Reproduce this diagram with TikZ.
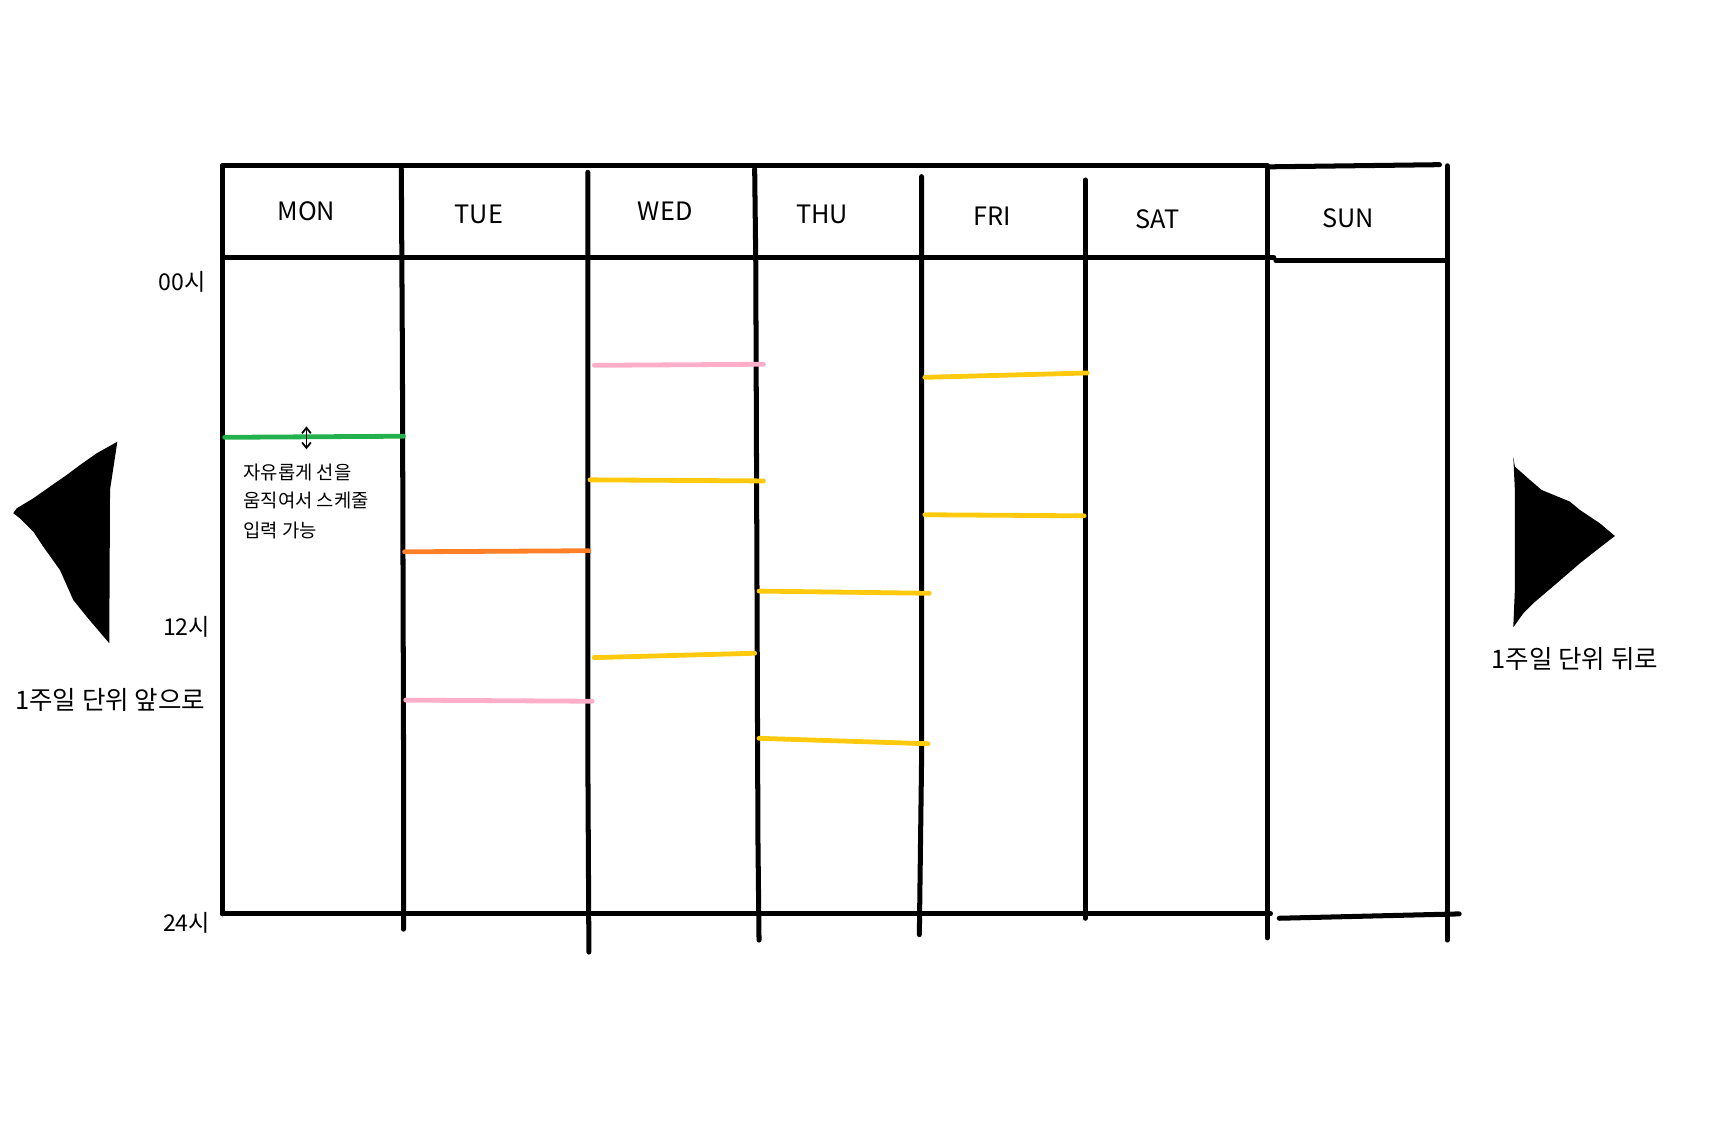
\documentclass[tikz,border=0pt]{standalone}
\usepackage{fontspec}
\setmainfont{Noto Sans CJK KR}
\usetikzlibrary{arrows.meta}
\tikzset{
  grid/.style={line width=2.3pt, black, line cap=round},
  sched/.style={line width=2.2pt, line cap=round},
  day/.style={font=\fontsize{11.6}{13}\selectfont, inner sep=0pt},
  hour/.style={font=\fontsize{10.6}{12}\selectfont, inner sep=0pt, anchor=east},
  note/.style={font=\fontsize{8.6}{10}\selectfont, inner sep=0pt, anchor=west},
  nav/.style={font=\fontsize{11.7}{13}\selectfont, inner sep=0pt},
}
\definecolor{cgreen}{HTML}{22B14C}
\definecolor{corange}{HTML}{FF7F27}
\definecolor{cpink}{HTML}{FFAEC9}
\definecolor{cyellow}{HTML}{FFC90E}
\begin{document}
\begin{tikzpicture}[x=0.5pt,y=-0.5pt]
\useasboundingbox (0,0) rectangle (1568,1027);
% frame
\draw[grid] (204,152) -- (1162,152);
\draw[grid] (1162,153) -- (1320,151);
\draw[grid] (204,236) -- (1168,236);
\draw[grid] (1170,239) -- (1325,239);
\draw[grid] (204,838) -- (1165,838);
\draw[grid] (1173,842) -- (1338,838);
\draw[grid] (204,152) -- (204,838);
% column lines
\draw[grid] (368,155) -- (369,330) -- (370,680) -- (370,852);
\draw[grid] (539,158) -- (539,690) -- (540,873);
\draw[grid] (692,155) -- (693,240) -- (695,770) -- (696,862);
\draw[grid] (845,162) -- (845,700) -- (843,857);
\draw[grid] (995,165) -- (995,842);
\draw[grid] (1162,152) -- (1162,860);
\draw[grid] (1327,152) -- (1327,862);
% day labels
\node[day] (mon) at (281,194) {MON};
\node[day] (tue) at (439,197) {TUE};
\node[day] (wed) at (610,194) {WED};
\node[day] (thu) at (754,197) {THU};
\node[day] (fri) at (910,198) {FRI};
\node[day] (sat) at (1061,201) {SAT};
\node[day] (sun) at (1236,200) {SUN};
% hour labels
\node[hour] (h00) at (189,258) {00시};
\node[hour] (h12) at (193,575) {12시};
\node[hour] (h24) at (193,846) {24시};
% schedule lines
\draw[sched, cgreen] (206,401) -- (370,400);
\draw[sched, corange] (371,506) -- (540,505);
\draw[sched, cpink] (372,642) -- (543,643);
\draw[sched, cpink] (545,335) -- (700,334);
\draw[sched, cyellow] (541,440) -- (700,441);
\draw[sched, cyellow] (545,603) -- (692,599);
\draw[sched, cyellow] (696,542) -- (852,544);
\draw[sched, cyellow] (696,677) -- (851,682);
\draw[sched, cyellow] (848,346) -- (997,342);
\draw[sched, cyellow] (848,472) -- (994,473);
% move hint
\coordinate (arrtop) at (281,391);
\coordinate (arrbot) at (281,412);
\draw[line width=0.8pt, {Straight Barb[length=2.5pt,width=4pt]}-{Straight Barb[length=2.5pt,width=4pt]}] (arrtop) -- (arrbot);
\node[note] (n1) at (223,433) {자유롭게 선을};
\node[note] (n2) at (223,459) {움직여서 스케줄};
\node[note] (n3) at (223,486) {입력 가능};
% navigation triangles
\fill[black] (107.6,405) -- (88.6,415.7) -- (73.4,426.4) -- (61.1,435.6) -- (45.8,446.2) -- (30.6,456.9) -- (15.3,466.1)
  -- (12.2,470.6) -- (18.3,475.3) -- (30.6,487.5) -- (33.6,492.1) -- (39.7,501.3) -- (55,522.7) -- (67.2,550.2)
  -- (79.5,565.5) -- (100.2,589.8) -- (100.9,449.1) -- cycle;
\fill[black] (1387.6,418.7) -- (1389.1,427.9) -- (1402.9,440.1) -- (1413.6,449.3) -- (1439.6,460) -- (1448.7,467.6)
  -- (1467.1,479.9) -- (1480.8,491.5) -- (1470.1,499.7) -- (1448.7,516.5) -- (1427.4,534.9) -- (1405.9,553.2)
  -- (1396.8,562.4) -- (1387.6,575.2) -- (1389.1,540) -- (1389.1,495.1) -- (1389.1,450) -- cycle;
\node[nav] (prev) at (101,642) {1주일 단위 앞으로};
\node[nav] (next) at (1444,604) {1주일 단위 뒤로};
\end{tikzpicture}
\end{document}
